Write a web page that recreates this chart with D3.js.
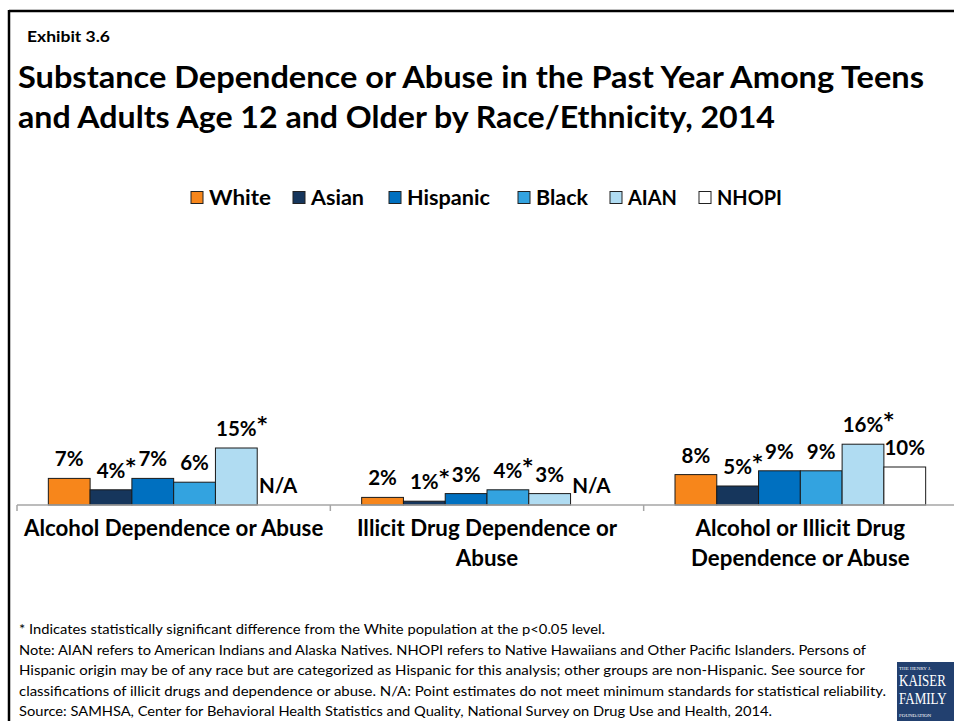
<!DOCTYPE html>
<html>
<head>
<meta charset="utf-8">
<script src="https://cdn.jsdelivr.net/npm/d3@7"></script>
<style>
  html, body { margin: 0; padding: 0; background: #fff; }
  svg { display: block; font-family: Lato, "Open Sans", sans-serif; }
</style>
</head>
<body>
<svg id="chart" width="954" height="721"></svg>
<script>
// Substance dependence or abuse in the past year, ages 12+, by race/ethnicity (2014)
const categories = [
  "Alcohol Dependence or Abuse",
  "Illicit Drug Dependence or Abuse",
  "Alcohol or Illicit Drug Dependence or Abuse"
];
const categoryLines = [
  ["Alcohol Dependence or Abuse"],
  ["Illicit Drug Dependence or", "Abuse"],
  ["Alcohol or Illicit Drug", "Dependence or Abuse"]
];
const groups = ["White", "Asian", "Hispanic", "Black", "AIAN", "NHOPI"];
const colors = ["#F7861B", "#16365C", "#0070C0", "#33A3E0", "#B0DCF2", "#FFFFFF"];

// Percent values per group, in category order (null = N/A)
const whiteVals    = [7, 2, 8];
const asianVals    = [4, 1, 5];
const hispanicVals = [7, 3, 9];
const blackVals    = [6, 4, 9];
const aianVals     = [15, 3, 16];
const nhopiVals    = [null, null, 10];

// Significant difference from White (p<0.05)
const asianSig    = [true, true, true];
const blackSig    = [false, true, false];
const aianSig     = [true, false, true];
const noSig       = [false, false, false];

const seriesValues = [whiteVals, asianVals, hispanicVals, blackVals, aianVals, nhopiVals];
const seriesSig    = [noSig, asianSig, noSig, blackSig, aianSig, noSig];

const exhibitLabel = "Exhibit 3.6";
const titleLines = [
  "Substance Dependence or Abuse in the Past Year Among Teens",
  "and Adults Age 12 and Older by Race/Ethnicity, 2014"
];
const footnotes = [
  "* Indicates statistically significant difference from the White population at the p<0.05 level.",
  "Note: AIAN refers to American Indians and Alaska Natives. NHOPI refers to Native Hawaiians and Other Pacific Islanders. Persons of",
  "Hispanic origin may be of any race but are categorized as Hispanic for this analysis; other groups are non-Hispanic. See source for",
  "classifications of illicit drugs and dependence or abuse. N/A: Point estimates do not meet minimum standards for statistical reliability.",
  "Source: SAMHSA, Center for Behavioral Health Statistics and Quality, National Survey on Drug Use and Health, 2014."
];
const logoLines = ["THE HENRY J.", "KAISER", "FAMILY", "FOUNDATION"];

// Flattened records for the bar marks
const records = [];
categories.forEach((c, ci) => {
  groups.forEach((g, gi) => {
    records.push({ cat: c, group: g, gi, value: seriesValues[gi][ci], sig: seriesSig[gi][ci] });
  });
});

const svg = d3.select("#chart");

// Frame lines
svg.append("line").attr("x1", 9).attr("x2", 954).attr("y1", 11).attr("y2", 11)
  .attr("stroke", "#000").attr("stroke-width", 2.5);
svg.append("line").attr("x1", 9).attr("x2", 9).attr("y1", 10).attr("y2", 721)
  .attr("stroke", "#000").attr("stroke-width", 2.5);

// Fit a text element to a given width
function fit(sel, w) {
  sel.attr("textLength", w).attr("lengthAdjust", "spacingAndGlyphs");
  return sel;
}

// Headings
fit(svg.append("text").attr("x", 27).attr("y", 42)
  .attr("font-size", 15).attr("font-weight", 700).text(exhibitLabel), 83);
const titleWidths = [906, 757];
titleLines.forEach((t, i) => {
  fit(svg.append("text").attr("x", 18).attr("y", 88 + i * 40)
    .attr("font-size", 31).attr("font-weight", 700).text(t), titleWidths[i]);
});

// Legend
const legendX = [191, 293, 389, 518, 610, 699];
const legendW = [62, 53, 83, 52, 49, 65];
const legend = svg.append("g");
groups.forEach((g, i) => {
  legend.append("rect").attr("x", legendX[i]).attr("y", 191.5)
    .attr("width", 12).attr("height", 12)
    .attr("fill", colors[i]).attr("stroke", "#222").attr("stroke-width", 1);
  fit(legend.append("text").attr("x", legendX[i] + 18).attr("y", 205)
    .attr("font-size", 20).attr("font-weight", 700).text(g), legendW[i]);
});

// Scales
const x0 = d3.scaleBand().domain(categories).range([17, 957]).padding(0);
const bw = x0.bandwidth();
const x1 = d3.scaleBand().domain(groups).range([bw * 0.1, bw * 0.9]).padding(0);
const y = d3.scaleLinear().domain([0, 100]).range([505, 125]);

const plot = svg.append("g");

// Bars
plot.selectAll("rect.bar")
  .data(records.filter(d => d.value != null))
  .join("rect")
  .attr("class", "bar")
  .attr("x", d => x0(d.cat) + x1(d.group))
  .attr("y", d => y(d.value))
  .attr("width", x1.bandwidth())
  .attr("height", d => y(0) - y(d.value))
  .attr("fill", d => colors[d.gi])
  .attr("stroke", "#1a1a1a")
  .attr("stroke-width", 1);

// Axis baseline with ticks at category boundaries
const axis = svg.append("g").attr("transform", `translate(0,${y(0)})`);
axis.append("line").attr("x1", x0.range()[0]).attr("x2", x0.range()[1])
  .attr("y1", 0).attr("y2", 0).attr("stroke", "#A6A6A6").attr("stroke-width", 1.5);
axis.selectAll("line.tick")
  .data(categories.concat([null]))
  .join("line").attr("class", "tick")
  .attr("x1", d => d ? x0(d) : x0.range()[1])
  .attr("x2", d => d ? x0(d) : x0.range()[1])
  .attr("y1", 0).attr("y2", 6).attr("stroke", "#A6A6A6").attr("stroke-width", 1.5);

// Value labels (significance marked by a raised asterisk)
const labels = plot.selectAll("text.val")
  .data(records)
  .join("text")
  .attr("class", "val")
  .attr("font-size", 20.5).attr("font-weight", 700).attr("fill", "#000");
labels.each(function (d) {
  const t = d3.select(this);
  const cx = x0(d.cat) + x1(d.group) + x1.bandwidth() / 2;
  const base = y(d.value == null ? 0 : d.value) - 12;
  if (d.value == null) {
    t.attr("x", cx).attr("y", base).attr("text-anchor", "middle").text("N/A");
    return;
  }
  const num = t.append("tspan").text(d.value + "%");
  t.attr("y", base);
  const w = num.node().getComputedTextLength();
  t.attr("x", cx - w / 2);
  if (d.sig) {
    t.append("tspan").attr("dy", -6).attr("dx", 0.5)
      .attr("font-family", "'DejaVu Sans', sans-serif")
      .attr("font-size", 19).text("*");
  }
});

// Category labels
const catG = svg.append("g");
categories.forEach((c, ci) => {
  const cx = x0(c) + bw / 2;
  categoryLines[ci].forEach((line, li) => {
    catG.append("text").attr("x", cx).attr("y", 536 + li * 30)
      .attr("text-anchor", "middle")
      .attr("font-size", 22.3).attr("font-weight", 700).text(line);
  });
});

// Footnotes
const footWidths = [586, 847, 846, 867, 753];
footnotes.forEach((f, i) => {
  fit(svg.append("text").attr("x", 19).attr("y", 634 + i * 20.5)
    .attr("font-size", 14).attr("fill", "#000").text(f), footWidths[i]);
});

// Foundation logo
const logo = svg.append("g");
logo.append("rect").attr("x", 897).attr("y", 662).attr("width", 57).attr("height", 59).attr("fill", "#22406F");
const logoY = [670, 686, 704, 717];
const logoSize = [5, 13, 13, 5];
const logoStretch = [1, 1.3, 1.3, 1];
logoLines.forEach((l, i) => {
  logo.append("text")
    .attr("transform", `translate(899,${logoY[i]}) scale(1,${logoStretch[i]})`)
    .attr("font-family", "'Liberation Serif', 'DejaVu Serif', serif")
    .attr("font-size", logoSize[i]).attr("fill", "#fff").text(l);
});
</script>
</body>
</html>
